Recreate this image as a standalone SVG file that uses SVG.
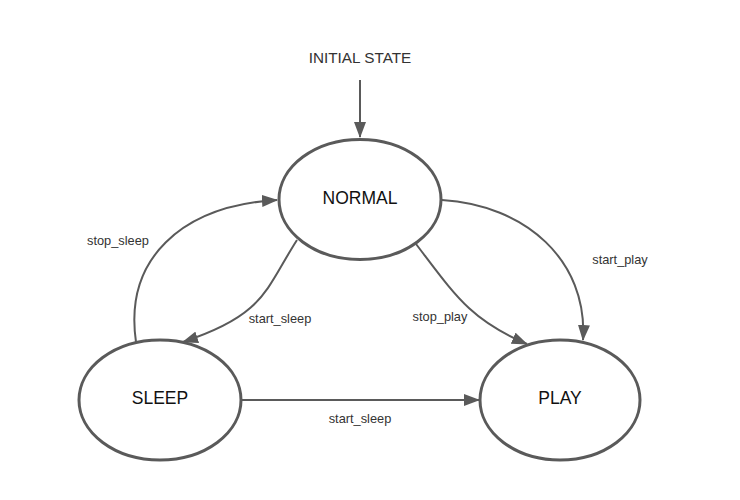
<svg xmlns="http://www.w3.org/2000/svg" width="740" height="500" viewBox="0 0 740 500">
<style>
.node ellipse{fill:#fff;stroke:#5a5a5a;stroke-width:3}
.node text{font-family:"Liberation Sans",Arial,sans-serif;font-size:17.5px;fill:#111;text-anchor:middle}
.edge{fill:none;stroke:#5a5a5a;stroke-width:2}
.lbl{font-family:"Liberation Sans",Arial,sans-serif;font-size:12.8px;fill:#333;text-anchor:middle}
</style>
<defs>
<marker id="ah" viewBox="0 0 16 12" refX="15" refY="6" markerWidth="16" markerHeight="12" markerUnits="userSpaceOnUse" orient="auto">
<path d="M0,0 L16,6 L0,12 Z" fill="#5a5a5a"/>
</marker>
</defs>
<rect width="740" height="500" fill="#fff"/>
<g id="connectors">
<path class="edge" d="M360,80 L360,137" marker-end="url(#ah)"/>
<path class="edge" d="M136,342 C124,260 180,206 277,200" marker-end="url(#ah)"/>
<path class="edge" d="M297,240 C265,290 265,315 183,342" marker-end="url(#ah)"/>
<path class="edge" d="M416,244 C455,295 470,320 527,344" marker-end="url(#ah)"/>
<path class="edge" d="M442,200 C525,205 588,260 583,340" marker-end="url(#ah)"/>
<path class="edge" d="M242,400 L479,400" marker-end="url(#ah)"/>
<text class="lbl" x="118" y="245">stop_sleep</text>
<text class="lbl" x="280" y="323">start_sleep</text>
<text class="lbl" x="440" y="321">stop_play</text>
<text class="lbl" x="620" y="264">start_play</text>
<text class="lbl" x="360" y="423">start_sleep</text>
</g>
<g id="initial"><text x="360" y="63" style="font-family:'Liberation Sans',Arial,sans-serif;font-size:15.3px;fill:#333;text-anchor:middle">INITIAL STATE</text></g>
<g id="normal" class="node"><ellipse cx="360" cy="199.5" rx="81" ry="60"/><text x="360" y="203.5">NORMAL</text></g>
<g id="sleep" class="node"><ellipse cx="160" cy="400" rx="81" ry="60"/><text x="160" y="404">SLEEP</text></g>
<g id="play" class="node"><ellipse cx="560" cy="400" rx="80" ry="60"/><text x="560" y="404">PLAY</text></g>
</svg>
